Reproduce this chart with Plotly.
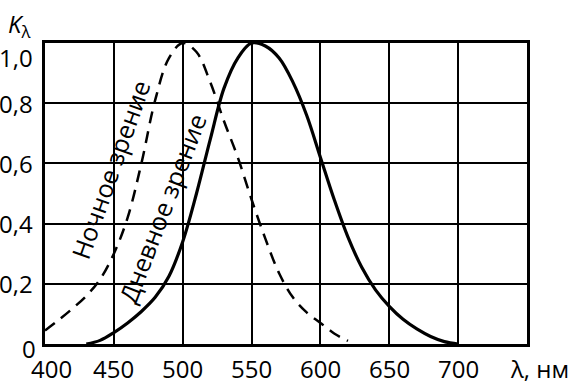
import plotly.graph_objects as go

# Photopic (day vision) curve
day_wl = [430, 440, 450, 460, 470, 480, 490, 500, 510, 520, 530, 540, 550, 560,
          570, 580, 590, 600, 610, 620, 630, 640, 650, 660, 670, 680, 690, 700]
day_k = [0.0, 0.012, 0.038, 0.07, 0.108, 0.155, 0.225, 0.34, 0.50, 0.68, 0.85, 0.95, 1.0, 0.99,
         0.95, 0.87, 0.76, 0.62, 0.48, 0.355, 0.255, 0.18, 0.125, 0.082, 0.05, 0.025, 0.008, 0.0]

# Scotopic (night vision) curve
night_wl = [400, 410, 420, 430, 440, 450, 460, 470, 480, 490, 500, 510, 520, 530,
            540, 550, 560, 570, 580, 590, 600, 610, 620]
night_k = [0.045, 0.08, 0.118, 0.16, 0.215, 0.3, 0.42, 0.6, 0.81, 0.95, 1.0, 0.97, 0.87, 0.74,
           0.62, 0.48, 0.35, 0.235, 0.155, 0.105, 0.07, 0.035, 0.01]

x_ticks = [400, 450, 500, 550, 600, 650, 700]
x_tick_text = ["400", "450", "500", "550", "600", "650", "700"]
y_ticks = [0, 0.2, 0.4, 0.6, 0.8, 1.0]
y_tick_text = ["0", "0,2", "0,4", "0,6", "0,8", "1,0"]

FONT = "Open Sans"
FS = 24
FS_LABEL = 25

fig = go.Figure()
fig.add_trace(go.Scatter(x=night_wl, y=night_k, mode="lines",
                         line=dict(color="black", width=2.5, dash="12px,8px", shape="spline"),
                         showlegend=False, hoverinfo="skip"))
fig.add_trace(go.Scatter(x=day_wl, y=day_k, mode="lines",
                         line=dict(color="black", width=3.2, shape="spline"),
                         showlegend=False, hoverinfo="skip"))

annotations = []
for v, t in zip(y_ticks, y_tick_text):
    ys = 0
    xs = 0
    if v == 1.0:
        ys = -14
    elif v == 0:
        ys = -4
        xs = 3
    annotations.append(dict(x=0, y=v, xref="paper", yref="y", text=t, showarrow=False,
                            xanchor="right", yanchor="middle", xshift=-10 + xs, yshift=ys,
                            font=dict(family=FONT, size=FS, color="black")))

for v, t in zip(x_ticks, x_tick_text):
    xs = 6 if v == 400 else 0
    annotations.append(dict(x=v, y=0, xref="x", yref="paper", text=t, showarrow=False,
                            xanchor="center", yanchor="middle", xshift=xs, yshift=-24,
                            font=dict(family=FONT, size=FS, color="black")))

annotations += [
    dict(x=-0.054, y=1.06, xref="paper", yref="paper", text="<i>K</i><sub>λ</sub>",
         showarrow=False, xanchor="center", yanchor="middle",
         font=dict(family=FONT, size=FS, color="black")),
    dict(x=1.026, y=-0.083, xref="paper", yref="paper", text="λ, нм",
         showarrow=False, xanchor="center", yanchor="middle",
         font=dict(family=FONT, size=FS, color="black")),
    dict(x=0.135, y=0.578, xref="paper", yref="paper", text="Ночное зрение",
         showarrow=False, textangle=-70.5, xanchor="center", yanchor="middle",
         font=dict(family=FONT, size=FS_LABEL, color="black")),
    dict(x=0.243, y=0.452, xref="paper", yref="paper", text="Дневное зрение",
         showarrow=False, textangle=-69, xanchor="center", yanchor="middle",
         font=dict(family=FONT, size=FS_LABEL, color="black")),
]

fig.update_layout(
    width=570, height=382,
    margin=dict(l=45, r=43, t=43, b=38, autoexpand=False),
    paper_bgcolor="white", plot_bgcolor="white",
    annotations=annotations,
    xaxis=dict(range=[400, 750], tickvals=x_ticks, showticklabels=False,
               showgrid=True, gridcolor="black", gridwidth=2,
               showline=True, linecolor="black", linewidth=3, mirror=True,
               zeroline=False, ticks="", automargin=False),
    yaxis=dict(range=[0, 1.0], tickvals=[0.2, 0.4, 0.6, 0.8], showticklabels=False,
               showgrid=True, gridcolor="black", gridwidth=2,
               showline=True, linecolor="black", linewidth=3, mirror=True,
               zeroline=False, ticks="", automargin=False),
)

# remove the default 8px page margin so the figure fills the window exactly
fig.write_html("out.html", config={"displayModeBar": False},
               post_script="document.body.style.margin='0';document.body.style.overflow='hidden';")
